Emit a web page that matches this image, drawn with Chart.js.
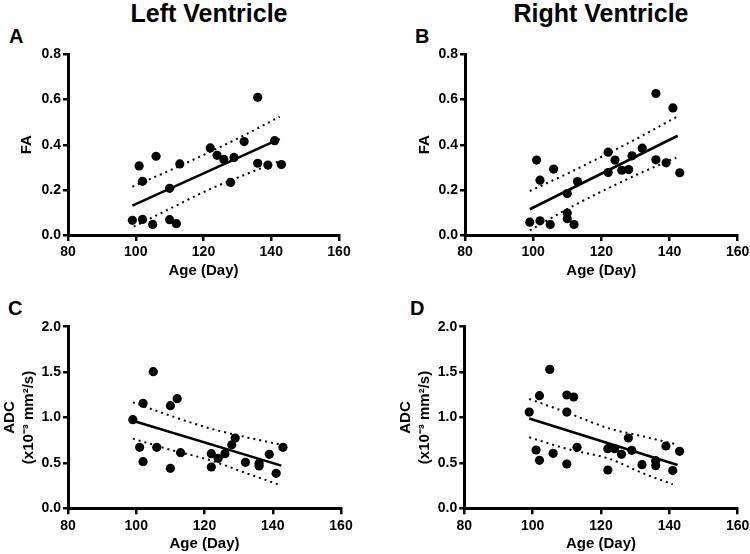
<!DOCTYPE html>
<html>
<head>
<meta charset="utf-8">
<script src="https://cdn.jsdelivr.net/npm/chart.js@4/dist/chart.umd.min.js"></script>
<style>
  html, body { margin: 0; padding: 0; background: #fff; overflow: hidden; }
  body { width: 750px; height: 554px; position: relative; font-family: "Liberation Sans", Arial, sans-serif; }
  canvas { position: absolute; }
  .t { position: absolute; font-weight: bold; color: #000; white-space: nowrap; line-height: 1; }
  .title { font-size: 25px; transform: translateX(-50%); }
  .lab { font-size: 20px; }
</style>
</head>
<body>
<div class="t title" style="left:209px; top:1px;">Left Ventricle</div>
<div class="t title" style="left:601px; top:1px;">Right Ventricle</div>
<div class="t lab" style="left:9px; top:25.5px;">A</div>
<div class="t lab" style="left:415px; top:25.5px;">B</div>
<div class="t lab" style="left:8px; top:297.5px;">C</div>
<div class="t lab" style="left:410px; top:297.5px;">D</div>

<canvas id="cA" width="375" height="290" style="left:0px; top:0px;"></canvas>
<canvas id="cB" width="375" height="290" style="left:375px; top:0px;"></canvas>
<canvas id="cC" width="375" height="277" style="left:0px; top:277px;"></canvas>
<canvas id="cD" width="375" height="277" style="left:375px; top:277px;"></canvas>

<script>
// ---------- DATA ----------
// Panel A: Left ventricle FA
const agesA = [99, 101, 102, 102, 105, 106, 110, 110, 112, 113, 122, 124, 126, 128, 129, 132, 136, 136, 139, 141, 143];
const faLV  = [0.065, 0.306, 0.238, 0.069, 0.047, 0.349, 0.207, 0.068, 0.050, 0.315, 0.386, 0.353, 0.335, 0.233, 0.344, 0.414, 0.610, 0.318, 0.310, 0.418, 0.312];
const fitAgesA = [99, 142.5];
const fitFaLV  = [0.130, 0.426];
const ciAgesA  = [99, 110, 121, 132, 142.5];
const faLVUpper = [0.214, 0.286, 0.362, 0.442, 0.525];
const ciAgesALow = [99.4, 110, 121, 132, 142.5];
const faLVLower = [0.037, 0.116, 0.197, 0.266, 0.328];

// Panel B: Right ventricle FA
const agesB = [99, 101, 102, 102, 105, 106, 110, 110, 110, 112, 113, 122, 122, 124, 126, 128, 129, 132, 136, 136, 139, 141, 143];
const faRV  = [0.057, 0.332, 0.243, 0.063, 0.046, 0.292, 0.184, 0.097, 0.072, 0.046, 0.237, 0.367, 0.277, 0.332, 0.287, 0.290, 0.351, 0.385, 0.627, 0.333, 0.320, 0.563, 0.276];
const fitAgesB = [99, 142.4];
const fitFaRV  = [0.114, 0.440];
const ciAgesB  = [99, 110, 122, 132, 142];
const faRVUpper = [0.195, 0.272, 0.362, 0.440, 0.523];
const faRVLower = [0.021, 0.115, 0.207, 0.278, 0.343];

// Panel C: Left ventricle ADC
const agesC = [99, 101, 102, 102, 105, 106, 110, 110, 112, 113, 122, 122, 124, 126, 128, 129, 132, 136, 136, 139, 141, 143];
const adcLV = [0.976, 0.672, 1.156, 0.514, 1.505, 0.672, 1.130, 0.440, 1.207, 0.613, 0.602, 0.455, 0.550, 0.602, 0.700, 0.774, 0.506, 0.495, 0.466, 0.594, 0.385, 0.672];
const fitAgesC = [99, 142.5];
const fitAdcLV = [0.965, 0.470];
const ciAgesC  = [99, 110, 121.6, 132, 142.5];
const adcLVUpper = [1.167, 1.020, 0.880, 0.785, 0.700];
const ciAgesCLow = [99, 110, 121.6, 132, 141.5];
const adcLVLower = [0.767, 0.645, 0.530, 0.390, 0.264];

// Panel D: Right ventricle ADC
const agesD = [99, 101, 102, 102, 105, 106, 110, 110, 110, 112, 113, 122, 122, 124, 126, 128, 129, 132, 136, 136, 139, 141, 143];
const adcRV = [1.060, 0.642, 1.240, 0.528, 1.530, 0.606, 1.248, 1.060, 0.488, 1.226, 0.672, 0.657, 0.422, 0.657, 0.594, 0.774, 0.638, 0.480, 0.525, 0.470, 0.686, 0.415, 0.628];
const fitAgesD = [99, 142.4];
const fitAdcRV = [0.990, 0.477];
const ciAgesD  = [99, 110, 122.6, 132, 142];
const adcRVUpper = [1.204, 1.055, 0.877, 0.795, 0.705];
const ciAgesDLow = [99, 110, 122.6, 132, 141];
const adcRVLower = [0.782, 0.655, 0.543, 0.390, 0.264];

// Axis ticks / labels
const xTicks = [80, 100, 120, 140, 160];
const faTicks = [0.0, 0.2, 0.4, 0.6, 0.8];
const adcTicks = [0.0, 0.5, 1.0, 1.5, 2.0];
const xTitle = 'Age (Day)';
const faTitle = 'FA';
const adcTitle = ['ADC', '(x10\u207B\u00B3 mm\u00B2/s)'];

// ---------- CHART BUILDING ----------
const pts = (xs, ys) => xs.map((x, i) => ({ x: x, y: ys[i] }));
const FONT = "'Liberation Sans', Arial, sans-serif";

function makePanel(id, cfg) {
  const yW = cfg.yW, xH = 45;
  const canvas = document.getElementById(id);
  const H = canvas.height, W = canvas.width;
  const padding = {
    left: cfg.area.left - yW,
    top: cfg.area.top,
    right: W - cfg.area.right,
    bottom: H - cfg.area.bottom - xH
  };
  const dotted = {
    showLine: true, pointRadius: 0, borderColor: '#000', borderWidth: 2,
    borderDash: [2, 4], borderCapStyle: 'butt', tension: 0.4, cubicInterpolationMode: 'monotone', fill: false
  };
  new Chart(canvas, {
    type: 'scatter',
    data: {
      datasets: [
        { data: pts(cfg.ciUpX, cfg.ciUp), ...dotted },
        { data: pts(cfg.ciLoX, cfg.ciLo), ...dotted },
        { data: pts(cfg.fitX, cfg.fitY), showLine: true, pointRadius: 0, borderColor: '#000', borderWidth: 2.6, fill: false },
        { data: pts(cfg.x, cfg.y), pointRadius: 4.6, pointBackgroundColor: '#000', pointBorderColor: '#000', pointBorderWidth: 0, showLine: false }
      ]
    },
    options: {
      responsive: false,
      animation: false,
      events: [],
      layout: { padding: padding },
      plugins: { legend: { display: false }, tooltip: { enabled: false } },
      scales: {
        x: {
          type: 'linear', min: 80, max: 160,
          afterBuildTicks: s => { s.ticks = xTicks.map(v => ({ value: v })); },
          afterFit: s => { s.height = xH; s.paddingLeft = 0; s.paddingRight = 0; },
          border: { display: true, color: '#000', width: 3 },
          grid: { display: true, drawOnChartArea: false, drawTicks: true, tickLength: 6, lineWidth: 2.5, color: '#000' },
          ticks: { color: '#000', padding: 3, maxRotation: 0, font: { family: FONT, size: 14, weight: 'bold' } },
          title: { display: true, text: xTitle, color: '#000', padding: { top: 0, bottom: 0 }, font: { family: FONT, size: 15, weight: 'bold', lineHeight: 1.2 } }
        },
        y: {
          type: 'linear', min: cfg.yMin, max: cfg.yMax,
          afterBuildTicks: s => { s.ticks = cfg.yTicks.map(v => ({ value: v })); },
          afterFit: s => { s.width = yW; s.paddingTop = 0; s.paddingBottom = 0; },
          border: { display: true, color: '#000', width: 3 },
          grid: { display: true, drawOnChartArea: false, drawTicks: true, tickLength: 5, lineWidth: 2.5, color: '#000' },
          ticks: { color: '#000', padding: 2, callback: v => v.toFixed(1), font: { family: FONT, size: 14, weight: 'bold' } },
          title: { display: true, text: cfg.yTitle, color: '#000', padding: { top: cfg.yTitlePad, bottom: 0 }, font: { family: FONT, size: 15, weight: 'bold', lineHeight: cfg.yTitleLH } }
        }
      }
    }
  });
}

makePanel('cA', {
  x: agesA, y: faLV, fitX: fitAgesA, fitY: fitFaLV,
  ciUpX: ciAgesA, ciUp: faLVUpper, ciLoX: ciAgesALow, ciLo: faLVLower,
  yMin: 0, yMax: 0.8, yTicks: faTicks, yTitle: faTitle, yTitleLH: 1.2, yTitlePad: 18,
  yW: 68, area: { left: 68, right: 339, top: 54.5, bottom: 235 }
});
makePanel('cB', {
  x: agesB, y: faRV, fitX: fitAgesB, fitY: fitFaRV,
  ciUpX: ciAgesB, ciUp: faRVUpper, ciLoX: ciAgesB, ciLo: faRVLower,
  yMin: 0, yMax: 0.8, yTicks: faTicks, yTitle: faTitle, yTitleLH: 1.2, yTitlePad: 31,
  yW: 80, area: { left: 90, right: 362.7, top: 54.5, bottom: 235 }
});
makePanel('cC', {
  x: agesC, y: adcLV, fitX: fitAgesC, fitY: fitAdcLV,
  ciUpX: ciAgesC, ciUp: adcLVUpper, ciLoX: ciAgesCLow, ciLo: adcLVLower,
  yMin: 0, yMax: 2.0, yTicks: adcTicks, yTitle: adcTitle, yTitleLH: 1.27, yTitlePad: 0,
  yW: 68, area: { left: 68, right: 341, top: 49.7, bottom: 231.3 }
});
makePanel('cD', {
  x: agesD, y: adcRV, fitX: fitAgesD, fitY: fitAdcRV,
  ciUpX: ciAgesD, ciUp: adcRVUpper, ciLoX: ciAgesDLow, ciLo: adcRVLower,
  yMin: 0, yMax: 2.0, yTicks: adcTicks, yTitle: adcTitle, yTitleLH: 1.27, yTitlePad: 12,
  yW: 80, area: { left: 89.3, right: 362.7, top: 49.7, bottom: 231.3 }
});
</script>
</body>
</html>
